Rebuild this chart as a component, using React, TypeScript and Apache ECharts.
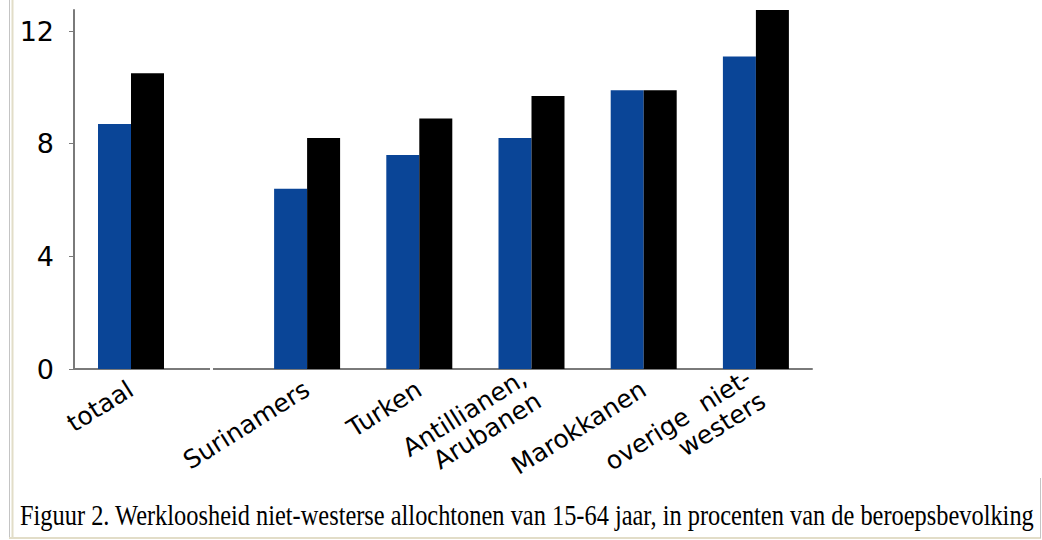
import React, { useEffect, useRef } from "react";
import * as echarts from "echarts";

const totalCategory = ["totaal"];
const groupCategories = [
  "Surinamers",
  "Turken",
  "Antillianen,\nArubanen",
  "Marokkanen",
  "overige  niet-\nwesters",
];
const totalBlue = [8.7];
const totalBlack = [10.5];
const groupBlue = [6.4, 7.6, 8.2, 9.9, 11.1];
const groupBlack = [8.2, 8.9, 9.7, 9.9, 13.4];
const yTicks = [0, 4, 8, 12];
const caption =
  "Figuur 2. Werkloosheid niet-westerse allochtonen van 15-64 jaar, in procenten van de beroepsbevolking";

const BLUE = "#0A4597";
const BLACK = "#000000";
const AXIS = "#7a7a7a";
const YMAX = 12.75;

export default function App() {
  const ref = useRef<HTMLDivElement>(null);
  useEffect(() => {
    if (!ref.current) return;
    const chart = echarts.init(ref.current, null, { renderer: "svg" });
    const labelStyle = {
      interval: 0,
      rotate: 32,
      fontSize: 25,
      fontFamily: "DejaVu Sans",
      color: "#000",
      margin: 18,
      lineHeight: 27,
    };
    const xBase = {
      type: "category" as const,
      axisLine: { lineStyle: { color: AXIS, width: 2 } },
      axisTick: { length: 5, lineStyle: { color: AXIS, width: 1 }, interval: 0 },
      axisLabel: labelStyle,
    };
    const yBase = {
      type: "value" as const,
      min: 0,
      max: YMAX,
      interval: 4,
      splitLine: { show: false },
    };
    chart.setOption({
      animation: false,
      backgroundColor: "#ffffff",
      grid: [
        { left: 74, top: 10, width: 114, height: 359 },
        { left: 251, top: 10, width: 561, height: 359 },
      ],
      xAxis: [
        { ...xBase, gridIndex: 0, data: totalCategory },
        { ...xBase, gridIndex: 1, data: groupCategories },
      ],
      yAxis: [
        {
          ...yBase,
          gridIndex: 0,
          axisLine: { show: true, lineStyle: { color: AXIS, width: 2 } },
          axisTick: {
            show: true,
            length: 5,
            lineStyle: { color: AXIS, width: 1 },
            customValues: yTicks,
          },
          axisLabel: {
            fontSize: 27,
            fontFamily: "DejaVu Sans",
            color: "#000",
            margin: 20,
            customValues: yTicks,
          },
        },
        { ...yBase, gridIndex: 1, show: false },
      ],
      series: [
        {
          type: "bar",
          xAxisIndex: 0,
          yAxisIndex: 0,
          data: totalBlue,
          barWidth: 33,
          barGap: "0%",
          itemStyle: { color: BLUE },
        },
        {
          type: "bar",
          xAxisIndex: 0,
          yAxisIndex: 0,
          data: totalBlack,
          barWidth: 33,
          barGap: "0%",
          itemStyle: { color: BLACK },
        },
        {
          type: "bar",
          xAxisIndex: 1,
          yAxisIndex: 1,
          data: groupBlue,
          barWidth: 33,
          barGap: "0%",
          itemStyle: { color: BLUE },
        },
        {
          type: "bar",
          xAxisIndex: 1,
          yAxisIndex: 1,
          data: groupBlack,
          barWidth: 33,
          barGap: "0%",
          itemStyle: { color: BLACK },
        },
      ],
      graphic: [
        {
          type: "line",
          shape: { x1: 188, y1: 369, x2: 210, y2: 369 },
          style: { stroke: AXIS, lineWidth: 2 },
        },
        {
          type: "line",
          shape: { x1: 213, y1: 369, x2: 251, y2: 369 },
          style: { stroke: AXIS, lineWidth: 2 },
        },
        {
          type: "line",
          shape: { x1: 9.5, y1: 0, x2: 9.5, y2: 538 },
          style: { stroke: "#c4c4c4", lineWidth: 1 },
        },
        {
          type: "line",
          shape: { x1: 12.5, y1: 0, x2: 12.5, y2: 538 },
          style: { stroke: "#e2ddc8", lineWidth: 2 },
        },
        {
          type: "line",
          shape: { x1: 9, y1: 538, x2: 1041, y2: 538 },
          style: { stroke: "#e2ddc8", lineWidth: 2 },
        },
        {
          type: "line",
          shape: { x1: 1040.5, y1: 478, x2: 1040.5, y2: 538 },
          style: { stroke: "#c4c4c4", lineWidth: 1 },
        },
        {
          type: "text",
          x: 20,
          y: 529,
          scaleY: 1.18,
          style: {
            text: caption,
            font: '24.4px "Liberation Serif"',
            fill: "#000",
            verticalAlign: "bottom",
            align: "left",
          },
        },
      ],
    });
    return () => chart.dispose();
  }, []);
  return (
    <div
      ref={ref}
      style={{
        position: "fixed",
        left: 0,
        top: 0,
        width: 1042,
        height: 540,
        background: "#fff",
      }}
    />
  );
}
